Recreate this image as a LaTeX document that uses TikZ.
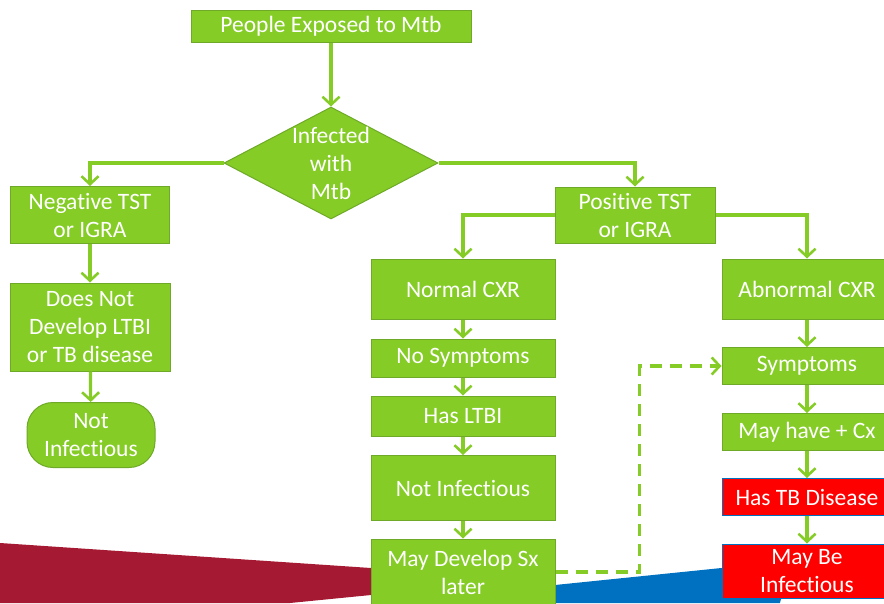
\documentclass[tikz,border=0pt]{standalone}
\usepackage{fontspec}
\setmainfont{Carlito}[Ligatures={NoCommon}]
\usepackage{tikz}
\usetikzlibrary{arrows.meta,calc,positioning,shapes.geometric}
\tikzset{
  fc_node/.style = {align=center, inner sep=1pt, text=white, text centered,
  font=\fontsize{23.5}{28}\selectfont},
  fc_box/.style = {fc_node, rectangle, draw=tb_dkgreen, line width=1pt, fill=tb_green},
  fc_red/.style = {fc_node, rectangle, draw=tb_blue, line width=1pt, fill=tb_red},
  fc_term/.style = {fc_box, rounded corners=26pt},
  fc_dec/.style = {diamond, draw=tb_dkgreen, line width=1pt, fill=tb_green, inner sep=0pt}
}
\definecolor{tb_green}{RGB}{133, 204, 38}
\definecolor{tb_dkgreen}{RGB}{110, 170, 40}
\definecolor{tb_red}{RGB}{255, 0, 0}
\definecolor{tb_blue}{RGB}{0, 112, 192}
\definecolor{tb_wine}{RGB}{165, 26, 50}

\begin{document}
\begin{tikzpicture}[x=1pt,y=-1pt,
            flow/.style={draw=tb_green, line width=3.2pt,
              -{Straight Barb[length=8pt,width=17pt,line width=2.6pt]}},
            wide/.style={minimum width=184pt},
            narrow/.style={minimum width=170pt}]
            \useasboundingbox (0,0) rectangle (884,603);
            \fill[tb_wine] (0,543) -- (371,568) -- (371,595) -- (290,603) -- (0,603) -- cycle;
            \fill[tb_blue] (555,585) -- (790,561) -- (780,603) -- (555,603) -- cycle;

            \node [fc_box, minimum width=280pt, minimum height=32pt] (exposed) at (331,26) {People Exposed to Mtb};
            \node [fc_dec, minimum width=214pt, minimum height=112pt] (infected) at (331,163) {};
            \node [fc_node] (infectedtxt) at (infected.center) {Infected\\with\\Mtb};

            \node [fc_box, minimum width=159pt, minimum height=57pt] (neg) at (90,215) {Negative TST\\or IGRA};
            \node [fc_box, minimum width=160pt, minimum height=88pt] (notdev) at (90,327) {Does Not\\Develop LTBI\\or TB disease};
            \node [fc_term, minimum width=128pt, minimum height=65pt] (notinfa) at (91,435) {Not\\Infectious};

            \node [fc_box, minimum width=160pt, minimum height=56pt] (pos) at (635,215) {Positive TST\\or IGRA};

            \node [fc_box, wide, minimum height=60pt] (normal) at (463,289) {Normal CXR};
            \node [fc_box, wide, minimum height=38pt] (nosym) at (463,358) {No Symptoms};
            \node [fc_box, wide, minimum height=40pt] (ltbi) at (463,416) {Has LTBI};
            \node [fc_box, wide, minimum height=65pt] (notinfb) at (463,488) {Not Infectious};
            \node [fc_box, wide, minimum height=66pt] (maydev) at (463,572) {May Develop Sx\\later};

            \node [fc_box, narrow, minimum height=60pt] (abn) at (807,289) {Abnormal CXR};
            \node [fc_box, narrow, minimum height=37pt] (sym) at (807,366) {Symptoms};
            \node [fc_box, narrow, minimum height=37pt] (cx) at (807,432) {May have + Cx};
            \node [fc_red, narrow, minimum height=37pt] (tbdis) at (807,497) {Has TB Disease};
            \node [fc_red, narrow, minimum height=54pt] (maybe) at (807,571) {May Be\\Infectious};

            \draw [flow] (exposed) -- (infected);
            \draw [flow] (infected.west) -| (neg);
            \draw [flow] (infected.east) -| (pos);
            \draw [flow] (neg) -- (notdev);
            \draw [flow] (notdev) -- (notinfa);
            \draw [flow] (pos.west) -| (normal);
            \draw [flow] (pos.east) -| (abn);
            \draw [flow] (normal) -- (nosym);
            \draw [flow] (nosym) -- (ltbi);
            \draw [flow] (ltbi) -- (notinfb);
            \draw [flow] (notinfb) -- (maydev);
            \draw [flow] (abn) -- (sym);
            \draw [flow] (sym) -- (cx);
            \draw [flow] (cx) -- (tbdis);
            \draw [flow] (tbdis) -- (maybe);
            \draw [flow, dash pattern=on 12pt off 8pt] (maydev.east) -- ++(84,0) |- (sym.west);
        \end{tikzpicture}
\end{document}
